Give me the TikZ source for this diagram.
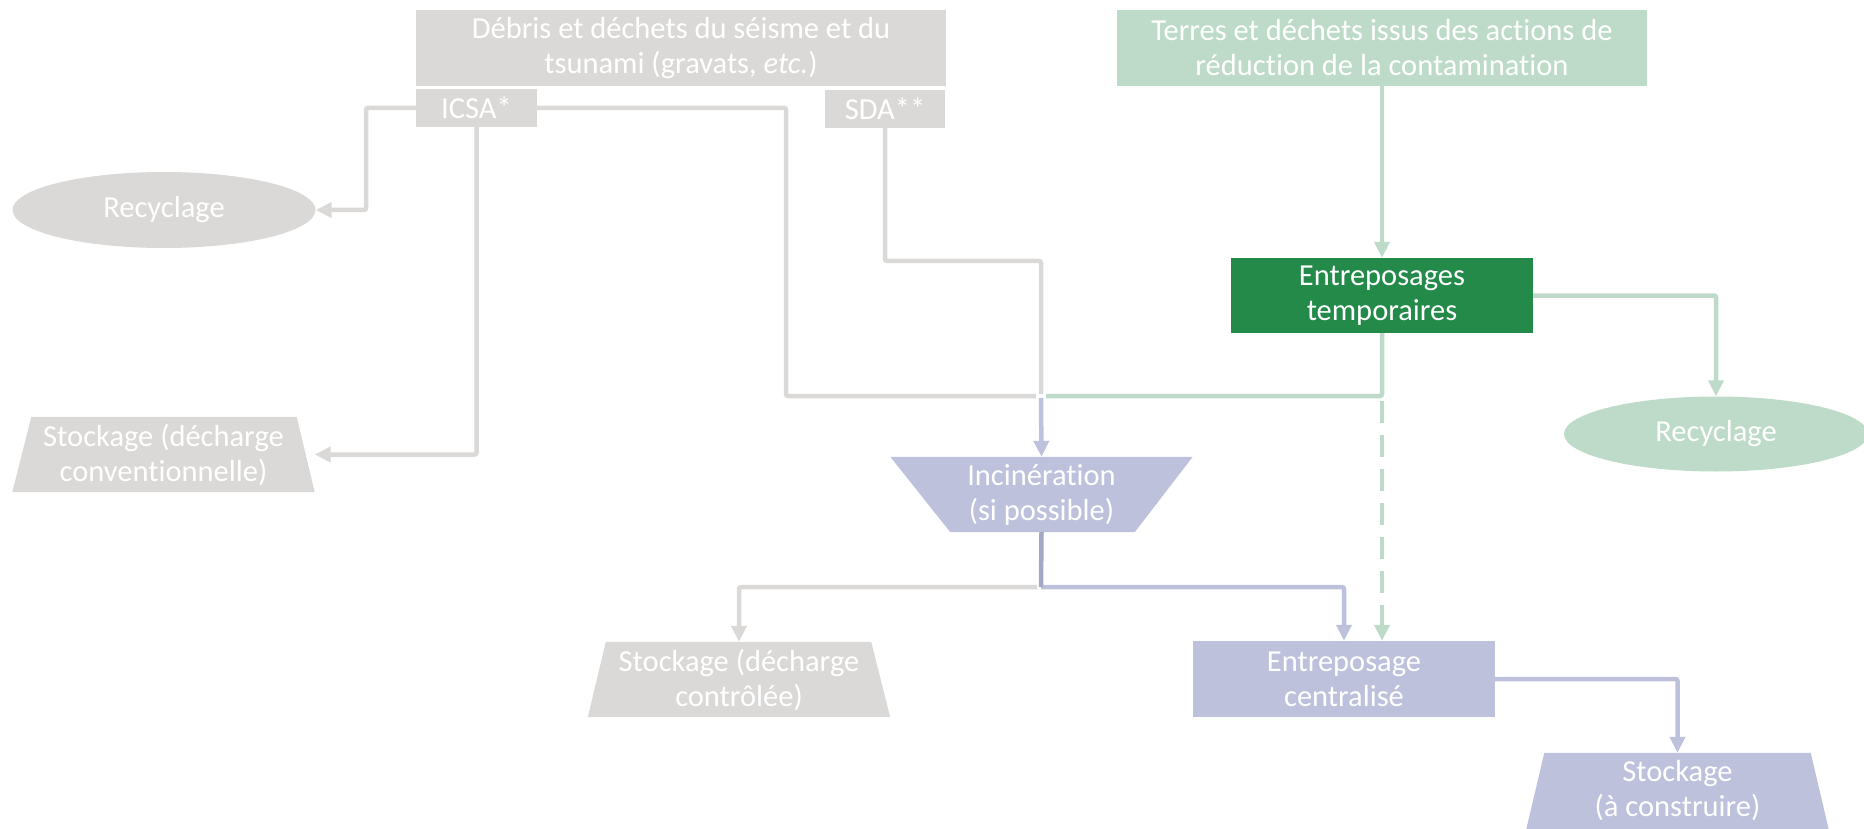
\documentclass[tikz,border=0pt]{standalone}
\usepackage{fontspec}
\setmainfont{Carlito}[Ligatures=NoCommon]
\usetikzlibrary{arrows.meta,shapes.geometric,calc}
\definecolor{cgray}{RGB}{218,217,215}
\definecolor{cgreen}{RGB}{190,219,201}
\definecolor{cdgreen}{RGB}{35,138,74}
\definecolor{cblue}{RGB}{189,193,220}
\definecolor{cdblue}{RGB}{164,167,198}
\tikzset{
  txt/.style={text=white,font=\fontsize{30.5}{35}\selectfont,align=center,inner sep=0pt},
  boxnode/.style={txt,rectangle,minimum width=#1},
  ellnode/.style={txt,ellipse,minimum width=303pt,minimum height=76pt},
  trapnode/.style={txt,rectangle,minimum width=302pt,minimum height=75pt},
  conn/.style={line width=4.5pt,rounded corners=2pt},
  tip/.style={-{Triangle[length=16pt,width=15pt]}},
}
\begin{document}
\begin{tikzpicture}[x=1pt,y=-1pt]
\useasboundingbox (0,0) rectangle (1864,829);
% nodes
\node[boxnode=530pt,minimum height=76pt,fill=cgray] (debris) at (681,48) {Débris et déchets du séisme et du\\tsunami (gravats, \textit{etc.})};
\node[boxnode=121pt,minimum height=38pt,fill=cgray] (icsa) at (476.5,108) {ICSA*};
\node[boxnode=120pt,minimum height=38pt,fill=cgray] (sda) at (885,109) {SDA**};
\node[ellnode,fill=cgray] (recyG) at (164,210) {Recyclage};
\node[trapnode] (stockConv) at (163.5,454.5) {};
\fill[cgray] ($(stockConv.south west)$) -- ($(stockConv.north west)+(19,0)$) -- ($(stockConv.north east)+(-18,0)$) -- (stockConv.south east) -- cycle;
\node[txt] at (stockConv) {Stockage (décharge\\conventionnelle)};

\node[boxnode=530pt,minimum height=76pt,fill=cgreen] (terres) at (1382,48) {Terres et déchets issus des actions de\\réduction de la contamination};
\node[boxnode=302pt,minimum height=75pt,fill=cdgreen] (entT) at (1382,295.5) {Entreposages\\temporaires};
\node[ellnode,fill=cgreen,minimum width=304pt,minimum height=75pt] (recyV) at (1716,434) {Recyclage};

\node[trapnode] (inc) at (1041.5,494.5) {};
\fill[cblue] (inc.north west) -- (inc.north east) -- ($(inc.south east)+(-58,0)$) -- ($(inc.south west)+(60,0)$) -- cycle;
\node[txt] at (inc) {Incinération\\(si possible)};

\node[trapnode] (stockCtrl) at (739,679.5) {};
\fill[cgray] (stockCtrl.south west) -- ($(stockCtrl.north west)+(18,0)$) -- ($(stockCtrl.north east)+(-19,0)$) -- (stockCtrl.south east) -- cycle;
\node[txt] at (stockCtrl) {Stockage (décharge\\contrôlée)};

\node[boxnode=302pt,minimum height=76pt,fill=cblue] (entC) at (1344,679) {Entreposage\\centralisé};

\node[trapnode,minimum height=76pt] (stockAC) at (1677.5,791) {};
\fill[cblue] (stockAC.south west) -- ($(stockAC.north west)+(18,0)$) -- ($(stockAC.north east)+(-18,0)$) -- (stockAC.south east) -- cycle;
\node[txt] at (stockAC) {Stockage\\(à construire)};

% coordinates
\coordinate (j) at (1041,396);
\coordinate (k) at (1041,587);

% gray connectors
\draw[conn,cgray,tip] (icsa.west) -- (366,108) -- (366,210) -- (recyG.east);
\draw[conn,cgray,tip] (icsa.south) |- (stockConv.east);
\draw[conn,cgray] (icsa.east) -- (786,108) -- (786,396) -- ($(j)+(-5,0)$);
\draw[conn,cgray] (sda.south) -- (885,261) -- (1041,261) -- ($(j)+(0,-2)$);
\draw[conn,cgray,tip] ($(k)+(-4,0)$) -| (stockCtrl.north);

% green connectors
\draw[conn,cgreen,tip] (terres.south) -- (entT.north);
\draw[conn,cgreen,tip] (entT.east) -| (recyV.north);
\draw[conn,cgreen] (entT.south) |- ($(j)+(5,0)$);
\draw[conn,cgreen,dash pattern=on 22pt off 12pt,tip] (entT.south) -- (entT.south |- entC.north);

% blue connectors
\draw[conn,cblue,tip] ($(j)+(0,2)$) -- (inc.north);
\draw[conn,cblue,tip] (k) -| (entC.north);
\draw[conn,cdblue] (inc.south) -- (k);
\draw[conn,cblue,tip] (entC.east) -| (stockAC.north);
\end{tikzpicture}
\end{document}
